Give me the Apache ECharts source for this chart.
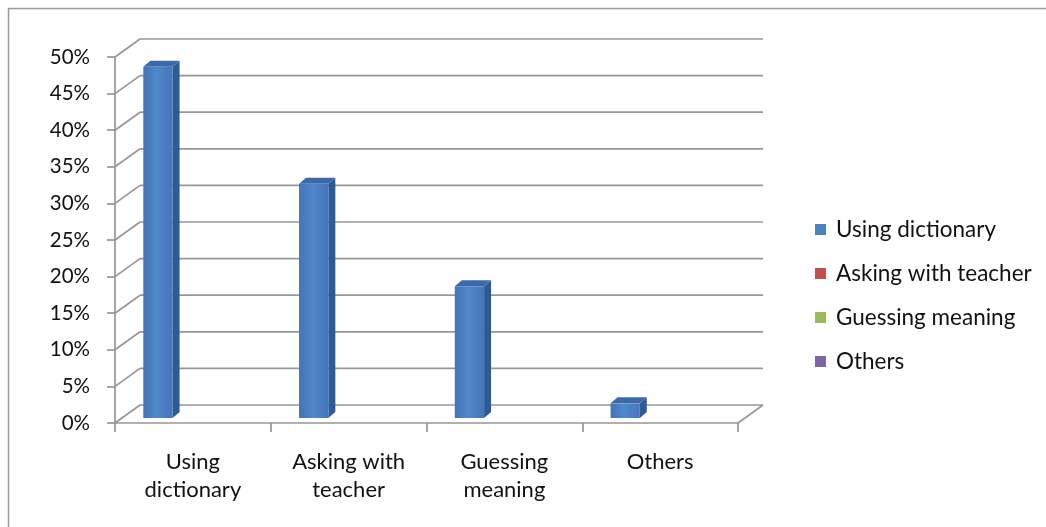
<!DOCTYPE html>
<html>
<head>
<meta charset="utf-8">
<script src="https://cdn.jsdelivr.net/npm/echarts@6/dist/echarts.min.js"></script>
<style>
  html, body { margin: 0; padding: 0; background: #ffffff; }
  #chart { width: 1046px; height: 527px; }
</style>
</head>
<body>
<div id="chart"></div>
<script>
// Ways students deal with unknown words (percent of respondents)
const categories = ['Using\ndictionary', 'Asking with\nteacher', 'Guessing\nmeaning', 'Others'];
const shares = [48, 32, 18, 2];
const seriesNames = ['Using dictionary', 'Asking with teacher', 'Guessing meaning', 'Others'];
const seriesColors = ['#4f81bd', '#c0504d', '#9bbb59', '#8064a2'];
const yTicks = [0, 5, 10, 15, 20, 25, 30, 35, 40, 45, 50];

// oblique depth of the back wall, and of the bar prisms
const WALL_DX = 25, WALL_DY = -18;
const BAR_SHIFT_X = 6.5, BAR_SHIFT_Y = -5;
const BAR_DX = 7, BAR_DY = -6;
const GRID_COLOR = '#979797';
const FONT = 'Lato, "Open Sans", sans-serif';

const chart = echarts.init(document.getElementById('chart'), null, { renderer: 'canvas' });

// back wall grid lines, left wall diagonals and floor edge
function renderWall(params, api) {
  const v = api.value(0);
  const cs = params.coordSys;
  const y = api.coord([0, v])[1];
  const x0 = cs.x, x1 = cs.x + cs.width;
  const style = { stroke: GRID_COLOR, lineWidth: 1.7 };
  const children = [
    { type: 'line', shape: { x1: x0, y1: y, x2: x0 + WALL_DX, y2: y + WALL_DY }, style },
    { type: 'line', shape: { x1: x0 + WALL_DX, y1: y + WALL_DY, x2: x1 + WALL_DX, y2: y + WALL_DY }, style }
  ];
  if (v === 0) {
    children.push({ type: 'line', shape: { x1: x1, y1: y, x2: x1 + WALL_DX, y2: y + WALL_DY }, style });
  }
  return { type: 'group', children };
}

// 3D column: front face, right side and top
function renderBar(params, api) {
  const idx = api.value(0);
  const val = api.value(1);
  const top = api.coord([idx, val]);
  const base = api.coord([idx, 0]);
  const band = api.size([1, 0])[0];
  const w = band * 0.188;
  const xL = base[0] - band / 2 + band * 0.14 + BAR_SHIFT_X;
  const xR = xL + w;
  const yT = top[1] + BAR_SHIFT_Y;
  const yB = base[1] + BAR_SHIFT_Y;
  return {
    type: 'group',
    children: [
      {
        type: 'polygon',
        shape: { points: [[xR, yT], [xR + BAR_DX, yT + BAR_DY], [xR + BAR_DX, yB + BAR_DY], [xR, yB]] },
        style: { fill: '#2f5b93' }
      },
      {
        type: 'polygon',
        shape: { points: [[xL, yT], [xL + BAR_DX, yT + BAR_DY], [xR + BAR_DX, yT + BAR_DY], [xR, yT]] },
        style: { fill: '#3d69a8' }
      },
      {
        type: 'rect',
        shape: { x: xL, y: yT, width: w, height: yB - yT },
        style: {
          fill: new echarts.graphic.LinearGradient(0, 0, 1, 0, [
            { offset: 0, color: '#4273b5' },
            { offset: 0.45, color: '#5088cc' },
            { offset: 1, color: '#4576b8' }
          ])
        }
      }
    ]
  };
}

const series = [
  {
    type: 'custom',
    name: '__wall',
    renderItem: renderWall,
    data: yTicks.map(v => [v]),
    encode: { y: 0 },
    silent: true,
    z: 1
  },
  {
    type: 'custom',
    name: seriesNames[0],
    renderItem: renderBar,
    data: shares.map((v, i) => [i, v]),
    encode: { x: 0, y: 1 },
    itemStyle: { color: seriesColors[0] },
    z: 3
  }
];
for (let k = 1; k < seriesNames.length; k++) {
  series.push({
    type: 'custom',
    name: seriesNames[k],
    renderItem: () => null,
    data: [],
    itemStyle: { color: seriesColors[k] }
  });
}

chart.setOption({
  animation: false,
  backgroundColor: '#ffffff',
  graphic: [{
    type: 'rect',
    shape: { x: 8.5, y: 8.5, width: 1200, height: 700 },
    style: { fill: 'none', stroke: '#9a9a9a', lineWidth: 1.5 },
    silent: true
  }],
  grid: { left: 115, top: 57, width: 623, height: 366, containLabel: false },
  xAxis: {
    type: 'category',
    data: categories,
    axisLine: { show: true, lineStyle: { color: GRID_COLOR, width: 1.7 } },
    axisTick: { show: true, length: 9, lineStyle: { color: GRID_COLOR, width: 1.7 } },
    axisLabel: {
      color: '#111', fontFamily: FONT, fontSize: 22, lineHeight: 28, margin: 25, interval: 0
    },
    splitLine: { show: false }
  },
  yAxis: {
    type: 'value',
    min: 0, max: 50, interval: 5,
    axisLine: { show: true, lineStyle: { color: GRID_COLOR, width: 1.7 } },
    axisTick: { show: true, length: 8, lineStyle: { color: GRID_COLOR, width: 1.7 } },
    axisLabel: { color: '#111', fontFamily: FONT, fontSize: 20.5, margin: 25, formatter: '{value}%' },
    splitLine: { show: false }
  },
  legend: {
    data: seriesNames,
    orient: 'vertical',
    left: 810,
    top: 213,
    icon: 'rect',
    itemWidth: 11,
    itemHeight: 11,
    itemGap: 21,
    textStyle: { color: '#111', fontFamily: FONT, fontSize: 22.5, padding: [0, 0, 0, 5] },
    selectedMode: false
  },
  series
});
</script>
</body>
</html>
